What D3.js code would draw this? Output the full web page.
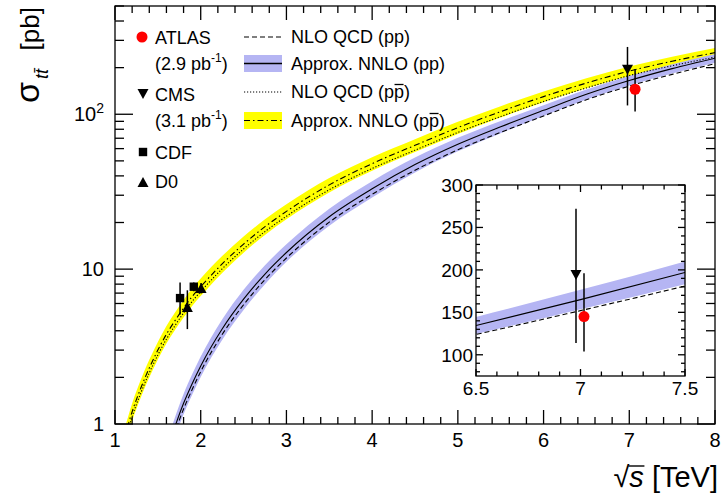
<!DOCTYPE html>
<html><head><meta charset="utf-8">
<script src="https://cdn.jsdelivr.net/npm/d3@7"></script>
<style>
body{margin:0;background:#fff}
svg{display:block}
text{font-family:"Liberation Sans",Arial,Helvetica,sans-serif;fill:#000}
</style>
</head><body>
<svg id="c" width="722" height="496"></svg>
<script>
// ---------------- DATA ----------------
const ppEnergy   = [1.6,1.7,1.8,1.9,2.0,2.25,2.5,2.75,3,3.5,4,4.5,5,5.5,6,6.5,7,7.5,8];
const ppNNLO     = [0.65,0.963,1.36,1.82,2.37,4.11,6.4,9.3,12.8,21.8,33,47.3,64,83,106,134.5,165,197,230];
const ppNNLOLow  = [0.553,0.819,1.156,1.547,2.015,3.49,5.44,8.0,11.14,19.08,29.0,42.1,57.6,75.5,97.5,124.5,153.5,183,215];
const ppNNLOHigh = [0.748,1.107,1.564,2.093,2.726,4.73,7.36,10.6,14.46,24.53,37.0,52.5,70.4,90.5,114.5,144.5,176.5,210,245];
const ppNLO      = [0.60,0.886,1.25,1.67,2.18,3.78,5.89,8.56,11.8,20.1,30.4,43.5,58.9,76.4,97.5,124,152,181,212];

const ppbarEnergy   = [1.1,1.2,1.3,1.4,1.5,1.6,1.7,1.8,1.9,2.0,2.25,2.5,2.75,3,3.5,4,4.5,5,5.5,6,6.5,7,7.5,8];
const ppbarNNLO     = [0.78,1.2,1.7,2.3,3.0,3.8,4.65,5.6,6.65,7.7,10.8,14.5,18.8,23.6,35,48,63,82,104,130,159,190,220,250];
const ppbarNNLOLow  = [0.679,1.044,1.479,2.0,2.61,3.31,4.05,4.87,5.79,6.70,9.45,12.76,16.64,21.0,31.3,43.2,57.0,74.6,95.2,119.6,147.1,176.7,204.6,232.5];
const ppbarNNLOHigh = [0.881,1.356,1.921,2.6,3.39,4.29,5.25,6.33,7.51,8.70,12.15,16.24,20.96,26.2,38.7,52.8,69.0,89.4,112.8,140.4,170.9,203.3,235.4,267.5];
const ppbarNLO      = [0.725,1.116,1.58,2.14,2.79,3.53,4.32,5.21,6.18,7.16,10.04,13.49,17.48,21.95,32.55,44.64,58.6,76.3,96.7,120.9,147.9,177.7,205.7,233.8];

// measurements
const pointExperiment = ["CDF","D0","CDF","D0","CMS","ATLAS"];
const pointEnergy     = [1.8,1.8,1.96,1.96,7,7];
const pointXsec       = [6.5,5.7,7.7,7.55,194,145];
const pointErrDown    = [1.4,1.6,0.5,0.6,80,41];
const pointErrUp      = [1.7,1.6,0.5,0.6,78,51];

// axes / legend labels
const xTickValues = [1,2,3,4,5,6,7,8];
const yTickValues = [1,10,100];
const insetXTicks = [6.5,7,7.5];
const insetYTicks = [100,150,200,250,300];
const legendLeft  = ["ATLAS","(2.9 pb","CMS","(3.1 pb","CDF","D0"];
const legendRight = ["NLO QCD (pp)","Approx. NNLO (pp)","NLO QCD (p","Approx. NNLO (p"];

// ---------------- STYLE ----------------
const BLUE = "#b5b5f3", YELLOW = "#ffff00", RED = "#ff0000";
const mainOffset  = {CDF:-3.5, D0:3.8, CMS:-1.8, ATLAS:5.8};
const insetOffset = {CMS:-4.5, ATLAS:3.5};

const svg = d3.select("#c");
const x = d3.scaleLinear().domain([1,8]).range([115,715]);
const y = d3.scaleLog().domain([1,500]).range([424,6]);
const xi = d3.scaleLinear().domain([6.5,7.5]).range([476,685]);
const yi = d3.scaleLinear().domain([75,300]).range([376,185]);

const defs = svg.append("defs");
defs.append("clipPath").attr("id","mainclip").append("rect")
  .attr("x",x(1)).attr("y",y(500)).attr("width",x(8)-x(1)).attr("height",y(1)-y(500));
defs.append("clipPath").attr("id","insetclip").append("rect")
  .attr("x",xi(6.5)).attr("y",yi(300)).attr("width",xi(7.5)-xi(6.5)).attr("height",yi(75)-yi(300));

function band(E, lo, hi, xs, ys){
  return d3.area().x((d,i)=>xs(E[i])).y0((d,i)=>ys(lo[i])).y1((d,i)=>ys(hi[i])).curve(d3.curveMonotoneX)(E);
}
function line(E, v, xs, ys){
  return d3.line().x((d,i)=>xs(E[i])).y((d,i)=>ys(v[i])).curve(d3.curveMonotoneX)(E);
}

// ---------------- MAIN CURVES ----------------
const gm = svg.append("g").attr("clip-path","url(#mainclip)");
gm.append("path").attr("d",band(ppbarEnergy,ppbarNNLOLow,ppbarNNLOHigh,x,y)).attr("fill",YELLOW);
gm.append("path").attr("d",band(ppEnergy,ppNNLOLow,ppNNLOHigh,x,y)).attr("fill",BLUE);
gm.append("path").attr("d",line(ppbarEnergy,ppbarNLO,x,y)).attr("fill","none").attr("stroke","#000").attr("stroke-width",1.1).attr("stroke-dasharray","1.2,1.8");
gm.append("path").attr("d",line(ppbarEnergy,ppbarNNLO,x,y)).attr("fill","none").attr("stroke","#000").attr("stroke-width",1.1).attr("stroke-dasharray","6,3,1.5,3");
gm.append("path").attr("d",line(ppEnergy,ppNLO,x,y)).attr("fill","none").attr("stroke","#000").attr("stroke-width",1.1).attr("stroke-dasharray","5,3");
gm.append("path").attr("d",line(ppEnergy,ppNNLO,x,y)).attr("fill","none").attr("stroke","#000").attr("stroke-width",1.1);

// markers
function marker(g, exp, cx, cy){
  if(exp==="ATLAS") g.append("circle").attr("cx",cx).attr("cy",cy).attr("r",5.5).attr("fill",RED);
  else if(exp==="CMS") g.append("path").attr("d",`M${cx-5.5},${cy-5}L${cx+5.5},${cy-5}L${cx},${cy+5}Z`).attr("fill","#000");
  else if(exp==="D0") g.append("path").attr("d",`M${cx-5.5},${cy+5}L${cx+5.5},${cy+5}L${cx},${cy-5}Z`).attr("fill","#000");
  else g.append("rect").attr("x",cx-4.2).attr("y",cy-4.2).attr("width",8.4).attr("height",8.4).attr("fill","#000");
}
const gp = svg.append("g");
pointExperiment.forEach((exp,i)=>{
  const cx = x(pointEnergy[i]) + mainOffset[exp];
  gp.append("line").attr("x1",cx).attr("x2",cx)
    .attr("y1",y(pointXsec[i]-pointErrDown[i])).attr("y2",y(pointXsec[i]+pointErrUp[i]))
    .attr("stroke","#000").attr("stroke-width",1.5);
  marker(gp, exp, cx, y(pointXsec[i]));
});

// ---------------- MAIN FRAME & TICKS ----------------
const ga = svg.append("g").attr("stroke","#000").attr("stroke-width",1.3);
ga.append("rect").attr("x",x(1)).attr("y",y(500)).attr("width",x(8)-x(1)).attr("height",y(1)-y(500)).attr("fill","none");
d3.range(1,8.001,0.2).forEach(v=>{
  const isMaj = Math.abs(v-Math.round(v))<1e-6;
  const L = isMaj?14:7;
  ga.append("line").attr("x1",x(v)).attr("x2",x(v)).attr("y1",y(1)).attr("y2",y(1)-L);
  ga.append("line").attr("x1",x(v)).attr("x2",x(v)).attr("y1",y(500)).attr("y2",y(500)+L);
});
const yMinor = [2,3,4,5,6,7,8,9,20,30,40,50,60,70,80,90,200,300,400,500];
yMinor.forEach(v=>{
  ga.append("line").attr("x1",x(1)).attr("x2",x(1)+9).attr("y1",y(v)).attr("y2",y(v));
  ga.append("line").attr("x1",x(8)).attr("x2",x(8)-9).attr("y1",y(v)).attr("y2",y(v));
});
yTickValues.forEach(v=>{
  ga.append("line").attr("x1",x(1)).attr("x2",x(1)+18).attr("y1",y(v)).attr("y2",y(v));
  ga.append("line").attr("x1",x(8)).attr("x2",x(8)-18).attr("y1",y(v)).attr("y2",y(v));
});

// tick labels
xTickValues.forEach(v=>{
  svg.append("text").attr("x",x(v)).attr("y",447).attr("text-anchor","middle").attr("font-size",20).text(v);
});
yTickValues.forEach(v=>{
  const t = svg.append("text").attr("x",104).attr("y",y(v)+7).attr("text-anchor","end").attr("font-size",20);
  if(v===100){ t.append("tspan").text("10"); t.append("tspan").attr("font-size",14).attr("dy",-8).text("2"); }
  else t.text(v);
});

// axis titles
const xt = svg.append("text").attr("x",718).attr("y",487).attr("text-anchor","end").attr("font-size",29);
xt.append("tspan").text("\u221A");
xt.append("tspan").attr("font-style","italic").text("s");
xt.append("tspan").text(" [TeV]");
const sb = xt.node().getBBox();
svg.append("line").attr("x1",sb.x+15).attr("x2",sb.x+31).attr("y1",sb.y+5).attr("y2",sb.y+5).attr("stroke","#000").attr("stroke-width",1.4);

// y title: sigma_{t tbar} [pb] (rotated)
svg.append("text").attr("transform","translate(39,7) rotate(-90)").attr("text-anchor","end").attr("font-size",26).text("[pb]");
svg.append("text").attr("transform","translate(48,69) rotate(-90)").attr("text-anchor","end").attr("font-size",18).attr("font-style","italic").text("tt\u0304");
svg.append("text").attr("transform","translate(38.5,82) rotate(-90)").attr("text-anchor","end").attr("font-size",34).text("\u03C3");

// ---------------- INSET ----------------
const gi = svg.append("g");
gi.append("rect").attr("x",xi(6.5)).attr("y",yi(300)).attr("width",xi(7.5)-xi(6.5)).attr("height",yi(75)-yi(300)).attr("fill","#fff");
const gic = gi.append("g").attr("clip-path","url(#insetclip)");
gic.append("path").attr("d",band(ppEnergy,ppNNLOLow,ppNNLOHigh,xi,yi)).attr("fill",BLUE);
gic.append("path").attr("d",line(ppEnergy,ppNLO,xi,yi)).attr("fill","none").attr("stroke","#000").attr("stroke-width",1.1).attr("stroke-dasharray","5,3");
gic.append("path").attr("d",line(ppEnergy,ppNNLO,xi,yi)).attr("fill","none").attr("stroke","#000").attr("stroke-width",1.1);
pointExperiment.forEach((exp,i)=>{
  if(pointEnergy[i] < 6.5) return;
  const cx = xi(pointEnergy[i]) + insetOffset[exp];
  gi.append("line").attr("x1",cx).attr("x2",cx)
    .attr("y1",yi(pointXsec[i]-pointErrDown[i])).attr("y2",yi(pointXsec[i]+pointErrUp[i]))
    .attr("stroke","#000").attr("stroke-width",1.5);
  marker(gi, exp, cx, yi(pointXsec[i]));
});
const gia = gi.append("g").attr("stroke","#000").attr("stroke-width",1.3);
gia.append("rect").attr("x",xi(6.5)).attr("y",yi(300)).attr("width",xi(7.5)-xi(6.5)).attr("height",yi(75)-yi(300)).attr("fill","none");
d3.range(6.5,7.5001,0.05).forEach(v=>{
  const r = Math.round(v*100);
  const L = (r%50===0)?7:(r%10===0?4.5:0);
  if(!L) return;
  gia.append("line").attr("x1",xi(v)).attr("x2",xi(v)).attr("y1",yi(75)).attr("y2",yi(75)-L);
  gia.append("line").attr("x1",xi(v)).attr("x2",xi(v)).attr("y1",yi(300)).attr("y2",yi(300)+L);
});
d3.range(80,300.1,10).forEach(v=>{
  const L = (v%50===0)?7:4;
  gia.append("line").attr("x1",xi(6.5)).attr("x2",xi(6.5)+L).attr("y1",yi(v)).attr("y2",yi(v));
  gia.append("line").attr("x1",xi(7.5)).attr("x2",xi(7.5)-L).attr("y1",yi(v)).attr("y2",yi(v));
});
insetXTicks.forEach(v=>{
  gi.append("text").attr("x",xi(v)).attr("y",395).attr("text-anchor","middle").attr("font-size",19).text(v);
});
insetYTicks.forEach(v=>{
  gi.append("text").attr("x",473).attr("y",yi(v)+7).attr("text-anchor","end").attr("font-size",19).text(v);
});

// ---------------- LEGEND ----------------
const lg = svg.append("g");
const lfs = 18;
// left column
marker(lg,"ATLAS",142,37);
lg.append("text").attr("x",155).attr("y",44).attr("font-size",lfs).text(legendLeft[0]);
let t = lg.append("text").attr("x",155).attr("y",70).attr("font-size",lfs);
t.append("tspan").text(legendLeft[1]); t.append("tspan").attr("font-size",12).attr("dy",-8).text("-1"); t.append("tspan").attr("dy",8).text(")");
marker(lg,"CMS",143,94);
lg.append("text").attr("x",155).attr("y",101).attr("font-size",lfs).text(legendLeft[2]);
t = lg.append("text").attr("x",155).attr("y",127).attr("font-size",lfs);
t.append("tspan").text(legendLeft[3]); t.append("tspan").attr("font-size",12).attr("dy",-8).text("-1"); t.append("tspan").attr("dy",8).text(")");
marker(lg,"CDF",143,152);
lg.append("text").attr("x",155).attr("y",159).attr("font-size",lfs).text(legendLeft[4]);
marker(lg,"D0",143,182);
lg.append("text").attr("x",155).attr("y",188).attr("font-size",lfs).text(legendLeft[5]);

// right column
const sx0 = 244, sx1 = 282, tx = 291;
lg.append("line").attr("x1",sx0).attr("x2",sx1).attr("y1",37).attr("y2",37).attr("stroke","#000").attr("stroke-width",1.1).attr("stroke-dasharray","5,3");
lg.append("rect").attr("x",sx0).attr("y",55).attr("width",sx1-sx0).attr("height",17).attr("fill",BLUE);
lg.append("line").attr("x1",sx0).attr("x2",sx1).attr("y1",63.5).attr("y2",63.5).attr("stroke","#000").attr("stroke-width",1.3);
lg.append("line").attr("x1",sx0).attr("x2",sx1).attr("y1",92).attr("y2",92).attr("stroke","#000").attr("stroke-width",1.1).attr("stroke-dasharray","1.2,1.8");
lg.append("rect").attr("x",sx0).attr("y",112).attr("width",sx1-sx0).attr("height",17).attr("fill",YELLOW);
lg.append("line").attr("x1",sx0).attr("x2",sx1).attr("y1",120.5).attr("y2",120.5).attr("stroke","#000").attr("stroke-width",1.1).attr("stroke-dasharray","6,3,1.5,3");

const rowY = [43,70,98,127];
legendRight.forEach((s,i)=>{
  const tt = lg.append("text").attr("x",tx).attr("y",rowY[i]).attr("font-size",lfs);
  tt.append("tspan").text(s);
  if(i>=2){
    tt.append("tspan").text("p");
    tt.append("tspan").text(")");
    const node = tt.node();
    const n = node.getNumberOfChars();
    const ext = node.getExtentOfChar(n-2);
    lg.append("line").attr("x1",ext.x+0.5).attr("x2",ext.x+ext.width-0.5)
      .attr("y1",rowY[i]-13.5).attr("y2",rowY[i]-13.5).attr("stroke","#000").attr("stroke-width",1.3);
  }
});
</script>
</body></html>
